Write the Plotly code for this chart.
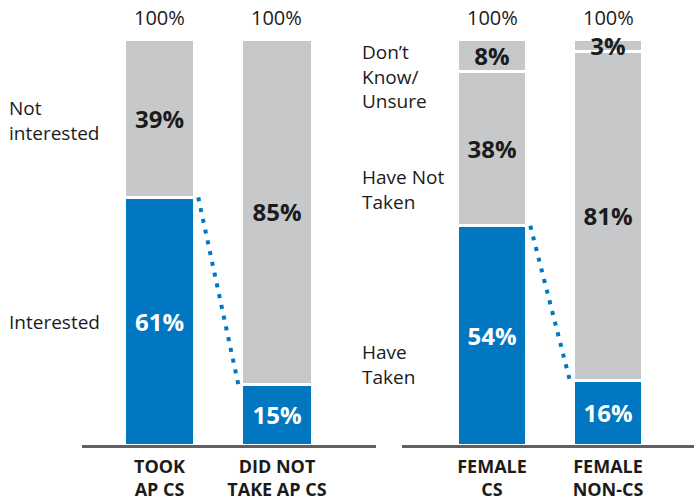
import plotly.graph_objects as go

# ---- data ----
left_cats = ["TOOK<br>AP CS", "DID NOT<br>TAKE AP CS"]
interested = [61, 15]
not_interested = [39, 85]

right_cats = ["FEMALE<br>CS", "FEMALE<br>NON-CS"]
have_taken = [54, 16]
have_not_taken = [38, 81]
dont_know = [8, 3]

left_labels = ["Not<br>interested", "Interested"]
right_labels = ["Don\u2019t<br>Know/<br>Unsure", "Have Not<br>Taken", "Have<br>Taken"]

# ---- style ----
BLUE = "#0077c0"
GREY = "#c7c8ca"
DARK = "#1b1b1b"
AXIS = "#5f6062"
FONT = "Open Sans"
BAR_W = 0.6
W, H = 694, 500
TOP, BOT = 39, 445  # plot area pixel rows


def pct(v):
    return [f"{x}%" for x in v]


def seg(x, y, color, tcolor, xa, ya):
    return go.Bar(
        x=x, y=y, marker=dict(color=color, line=dict(color="white", width=3)),
        width=BAR_W, text=pct(y), textposition="inside", insidetextanchor="middle",
        textangle=0, constraintext="none",
        textfont=dict(family=FONT, size=24, color=tcolor, weight=700),
        xaxis=xa, yaxis=ya, hoverinfo="skip", cliponaxis=False,
    )


fig = go.Figure()
fig.add_trace(seg(left_cats, interested, BLUE, "white", "x", "y"))
fig.add_trace(seg(left_cats, not_interested, GREY, DARK, "x", "y"))
fig.add_trace(seg(right_cats, have_taken, BLUE, "white", "x2", "y2"))
fig.add_trace(seg(right_cats, have_not_taken, GREY, DARK, "x2", "y2"))
fig.add_trace(seg(right_cats, dont_know, GREY, DARK, "x2", "y2"))

axis_common = dict(
    type="category", showline=True, linecolor=AXIS, linewidth=3, ticks="",
    showgrid=False, zeroline=False, fixedrange=True, automargin=False,
    ticklabelstandoff=3,
    tickfont=dict(family=FONT, size=18, color=DARK, weight=700),
)
yaxis_common = dict(range=[0, 100], visible=False, fixedrange=True, domain=[0, 1])

fig.update_layout(
    width=W, height=H, margin=dict(l=0, r=0, t=TOP, b=H - BOT, pad=0),
    paper_bgcolor="white", plot_bgcolor="white", showlegend=False, barmode="stack",
    xaxis=dict(domain=[82 / W, 376 / W], range=[-0.66, 1.843], anchor="y",
               categoryorder="array", categoryarray=left_cats, **axis_common),
    yaxis=dict(anchor="x", **yaxis_common),
    xaxis2=dict(domain=[402 / W, 1.0], range=[-0.776, 1.741], anchor="y2",
                categoryorder="array", categoryarray=right_cats, **axis_common),
    yaxis2=dict(anchor="x2", **yaxis_common),
)

# totals above bars
annotations = []
for cats, segs, xr, yr in [
    (left_cats, [interested, not_interested], "x", "y"),
    (right_cats, [have_taken, have_not_taken, dont_know], "x2", "y2"),
]:
    for i, c in enumerate(cats):
        total = sum(s[i] for s in segs)
        annotations.append(dict(
            x=c, y=total, xref=xr, yref=yr, text=f"{total}%", showarrow=False,
            yanchor="bottom", yshift=6,
            font=dict(family=FONT, size=20, color=DARK),
        ))

# side labels (paper coords are relative to the plot area)
side_font = dict(family=FONT, size=19, color=DARK)


def py(yc):
    return (BOT - yc) / (BOT - TOP)


def add_side(labels, x_px, rows):
    for txt, yc in zip(labels, rows):
        annotations.append(dict(x=x_px / W, y=py(yc), xref="paper", yref="paper",
                                text=txt, showarrow=False, xanchor="left",
                                yanchor="middle", align="left", font=side_font))


add_side(left_labels, 7, [120.5, 322])
add_side(right_labels, 360, [76, 189.5, 364.5])
fig.update_layout(annotations=annotations)

# dotted connectors between blue tops
shapes = []
for vals, xr, yr in [(interested, "x", "y"), (have_taken, "x2", "y2")]:
    shapes.append(dict(
        type="line", xref=xr, yref=yr,
        x0=0 + BAR_W / 2 + 0.03, y0=vals[0], x1=1 - BAR_W / 2 - 0.03, y1=vals[1],
        line=dict(color=BLUE, width=4, dash="4px,7px"),
    ))
fig.update_layout(shapes=shapes)

fig.write_html("out.html", config={"displayModeBar": False},
               post_script="document.body.style.margin='0';")
